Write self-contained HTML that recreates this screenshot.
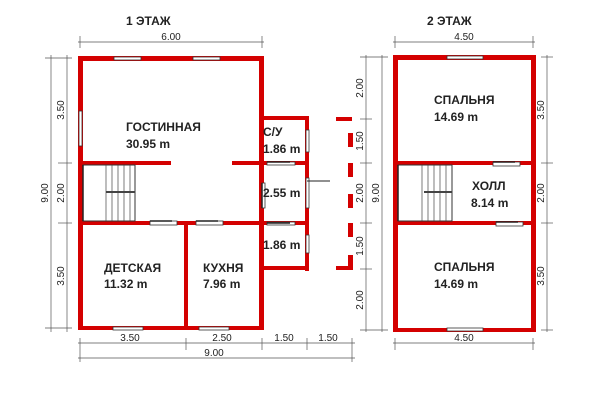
<!DOCTYPE html>
<html><head><meta charset="utf-8"><style>
html,body{margin:0;padding:0;background:#fff}
svg{display:block}
text{font-family:"Liberation Sans",sans-serif;font-weight:bold;fill:#222}
.d{font-weight:normal;font-size:10px;fill:#222}
</style></head><body>
<svg width="600" height="400" viewBox="0 0 600 400">
<g fill="#d40000">
<rect x="78" y="56" width="186" height="5"/>
<rect x="78" y="56" width="5" height="274"/>
<rect x="259" y="56" width="5" height="274"/>
<rect x="78" y="326" width="186" height="4"/>
<rect x="78" y="161" width="93" height="4"/>
<rect x="232" y="161" width="32" height="4"/>
<rect x="78" y="221" width="186" height="4"/>
<rect x="184" y="221" width="4" height="108"/>
<rect x="262" y="116" width="47" height="4"/>
<rect x="305" y="116" width="4" height="155"/>
<rect x="262" y="266" width="47" height="4"/>
<rect x="262" y="161" width="45" height="4"/>
<rect x="262" y="221" width="45" height="4"/>
<rect x="336" y="117" width="16" height="4"/>
<rect x="348" y="133" width="5" height="14"/>
<rect x="348" y="163" width="5" height="14"/>
<rect x="348" y="194" width="5" height="14"/>
<rect x="348" y="223" width="5" height="14"/>
<rect x="348" y="255" width="5" height="15"/>
<rect x="336" y="266" width="17" height="4"/>
<rect x="393" y="55" width="142" height="5"/>
<rect x="393" y="55" width="5" height="277"/>
<rect x="531" y="55" width="5" height="277"/>
<rect x="393" y="328" width="142" height="4"/>
<rect x="393" y="161" width="142" height="4"/>
<rect x="393" y="221" width="142" height="4"/>
</g>
<g fill="#fff" stroke="#333" stroke-width="0.8">
<rect x="114" y="57" width="27" height="3"/>
<rect x="193" y="57" width="27" height="3"/>
<rect x="79" y="111" width="3" height="35"/>
<rect x="113" y="327" width="30" height="3"/>
<rect x="199" y="327" width="30" height="3"/>
<rect x="306" y="130" width="3" height="22"/>
<rect x="306" y="178" width="3" height="30"/>
<rect x="306" y="235" width="3" height="18"/>
<rect x="150" y="221" width="27" height="4"/>
<rect x="196" y="221" width="27" height="4"/>
<rect x="267" y="162" width="28" height="3"/>
<rect x="267" y="222" width="28" height="3"/>
<rect x="262" y="183" width="3" height="25"/>
<rect x="447" y="56" width="36" height="3"/>
<rect x="447" y="328" width="36" height="3"/>
<rect x="493" y="162" width="27" height="4"/>
<rect x="496" y="222" width="27" height="4"/>
<rect x="83" y="165" width="52" height="56" stroke-width="1"/>
<rect x="398" y="165" width="54" height="56" stroke-width="1"/>
</g>
<g stroke="#222" stroke-width="1.5" fill="none">
<line x1="83" y1="165" x2="83" y2="221"/>
<line x1="398" y1="165" x2="398" y2="221"/>
<line x1="150" y1="221" x2="172" y2="221"/>
<line x1="196" y1="221" x2="218" y2="221"/>
<line x1="267" y1="162" x2="290" y2="162"/>
<line x1="267" y1="223" x2="290" y2="223"/>
<line x1="262" y1="183" x2="262" y2="208"/>
<line x1="493" y1="162" x2="515" y2="162"/>
<line x1="496" y1="222" x2="518" y2="222"/>
<line x1="307" y1="181" x2="330" y2="181" stroke-width="1"/>
</g>
<g stroke="#444" stroke-width="0.7">
<line x1="106" y1="165" x2="106" y2="221"/><line x1="112" y1="165" x2="112" y2="221"/><line x1="118" y1="165" x2="118" y2="221"/><line x1="124" y1="165" x2="124" y2="221"/><line x1="130" y1="165" x2="130" y2="221"/>
<line x1="106" y1="192" x2="135" y2="192" stroke-width="2"/>
<line x1="422" y1="165" x2="422" y2="221"/><line x1="428" y1="165" x2="428" y2="221"/><line x1="434" y1="165" x2="434" y2="221"/><line x1="440" y1="165" x2="440" y2="221"/><line x1="446" y1="165" x2="446" y2="221"/>
<line x1="424" y1="192" x2="452" y2="192" stroke-width="2"/>
</g>
<g stroke="#555" stroke-width="0.7">
<line x1="78" y1="42" x2="264" y2="42"/><line x1="80" y1="36" x2="80" y2="48"/><line x1="262" y1="36" x2="262" y2="48"/>
<line x1="51" y1="55" x2="51" y2="332"/><line x1="67" y1="55" x2="67" y2="332"/>
<line x1="45" y1="58" x2="72" y2="58"/><line x1="58" y1="163" x2="72" y2="163"/><line x1="58" y1="223" x2="72" y2="223"/><line x1="45" y1="328" x2="72" y2="328"/>
<line x1="78" y1="343" x2="355" y2="343"/><line x1="78" y1="358" x2="355" y2="358"/>
<line x1="80" y1="338" x2="80" y2="362"/><line x1="186" y1="338" x2="186" y2="350"/><line x1="262" y1="338" x2="262" y2="350"/><line x1="307" y1="338" x2="307" y2="350"/><line x1="352" y1="338" x2="352" y2="362"/>
<line x1="393" y1="42" x2="535" y2="42"/><line x1="395" y1="36" x2="395" y2="48"/><line x1="533" y1="36" x2="533" y2="48"/>
<line x1="393" y1="343" x2="535" y2="343"/><line x1="395" y1="338" x2="395" y2="350"/><line x1="533" y1="338" x2="533" y2="350"/>
<line x1="366" y1="55" x2="366" y2="332"/><line x1="382" y1="55" x2="382" y2="332"/>
<line x1="360" y1="57" x2="388" y2="57"/><line x1="360" y1="119" x2="372" y2="119"/><line x1="360" y1="163" x2="372" y2="163"/><line x1="360" y1="223" x2="372" y2="223"/><line x1="360" y1="269" x2="372" y2="269"/><line x1="360" y1="330" x2="388" y2="330"/>
<line x1="547" y1="55" x2="547" y2="332"/>
<line x1="541" y1="57" x2="553" y2="57"/><line x1="541" y1="163" x2="553" y2="163"/><line x1="541" y1="223" x2="553" y2="223"/><line x1="541" y1="330" x2="553" y2="330"/>
</g>
<text x="126" y="25" font-size="12">1 ЭТАЖ</text>
<text x="427" y="25" font-size="12">2 ЭТАЖ</text>
<text class="d" x="171" y="40" text-anchor="middle">6.00</text>
<text class="d" x="464" y="40" text-anchor="middle">4.50</text>
<text class="d" x="464" y="341" text-anchor="middle">4.50</text>
<text class="d" x="130" y="341" text-anchor="middle">3.50</text>
<text class="d" x="222" y="341" text-anchor="middle">2.50</text>
<text class="d" x="284" y="341" text-anchor="middle">1.50</text>
<text class="d" x="328" y="341" text-anchor="middle">1.50</text>
<text class="d" x="214" y="356" text-anchor="middle">9.00</text>
<text class="d" transform="translate(64,110) rotate(-90)" text-anchor="middle">3.50</text>
<text class="d" transform="translate(64,193) rotate(-90)" text-anchor="middle">2.00</text>
<text class="d" transform="translate(64,276) rotate(-90)" text-anchor="middle">3.50</text>
<text class="d" transform="translate(48,193) rotate(-90)" text-anchor="middle">9.00</text>
<text class="d" transform="translate(363,88) rotate(-90)" text-anchor="middle">2.00</text>
<text class="d" transform="translate(363,141) rotate(-90)" text-anchor="middle">1.50</text>
<text class="d" transform="translate(363,193) rotate(-90)" text-anchor="middle">2.00</text>
<text class="d" transform="translate(363,246) rotate(-90)" text-anchor="middle">1.50</text>
<text class="d" transform="translate(363,300) rotate(-90)" text-anchor="middle">2.00</text>
<text class="d" transform="translate(379,193) rotate(-90)" text-anchor="middle">9.00</text>
<text class="d" transform="translate(544,110) rotate(-90)" text-anchor="middle">3.50</text>
<text class="d" transform="translate(544,193) rotate(-90)" text-anchor="middle">2.00</text>
<text class="d" transform="translate(544,276) rotate(-90)" text-anchor="middle">3.50</text>
<g font-size="12">
<text x="126" y="131">ГОСТИННАЯ</text><text x="126" y="148">30.95 m</text>
<text x="263" y="136">С/У</text><text x="263" y="153">1.86 m</text>
<text x="263" y="197">2.55 m</text>
<text x="263" y="249">1.86 m</text>
<text x="104" y="272">ДЕТСКАЯ</text><text x="104" y="288">11.32 m</text>
<text x="203" y="272">КУХНЯ</text><text x="203" y="288">7.96 m</text>
<text x="434" y="104">СПАЛЬНЯ</text><text x="434" y="121">14.69 m</text>
<text x="472" y="190">ХОЛЛ</text><text x="471" y="207">8.14 m</text>
<text x="434" y="271">СПАЛЬНЯ</text><text x="434" y="288">14.69 m</text>
</g>
</svg>
</body></html>
